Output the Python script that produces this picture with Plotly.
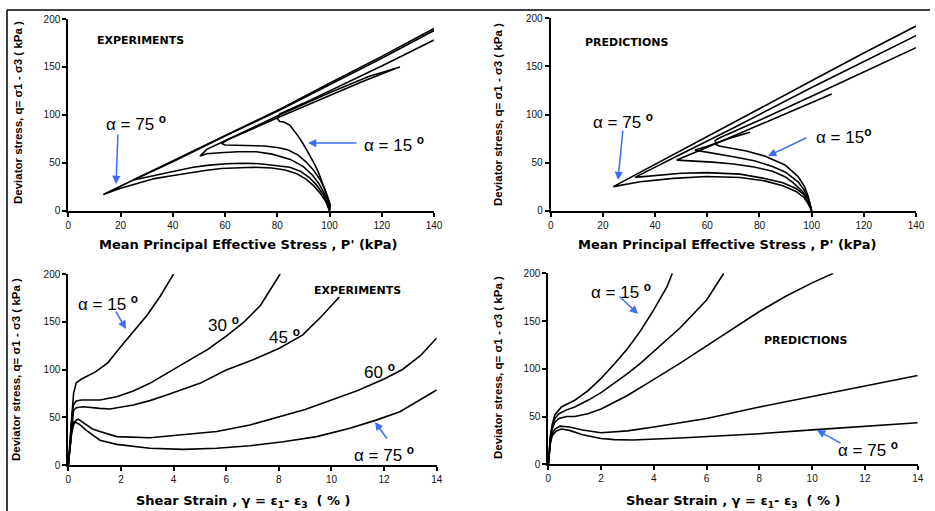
import plotly.graph_objects as go

W, H = 935, 511

# ---------------- DATA ----------------
alphas = ["15", "30", "45", "60", "75"]

# Top-left: experiments, stress paths (p', q)
exp_p15 = [100, 100.3, 99.5, 98.5, 97.6, 96.5, 95.6, 94, 92.5, 90.5, 88.6, 86.5, 84.8, 82.5, 81, 80, 81, 90, 100, 120, 140]
exp_q15 = [0, 6, 13, 20, 27, 34, 41, 50, 58, 67, 75.5, 83, 89.4, 92.5, 93, 96, 101, 112, 125, 151, 178]
exp_p30 = [100, 100, 99.3, 98.2, 96.5, 94, 91, 88, 84, 80, 75, 70, 65, 60, 58.7, 61, 81, 100, 112, 125]
exp_q30 = [0, 4, 12, 22, 32, 42, 51, 58, 63.5, 66, 67.5, 68, 68, 68.5, 70, 74, 98, 120, 134, 148]
exp_p45 = [100, 99.3, 98, 96, 93.5, 90, 85, 78, 72, 65, 58, 53, 50.4, 53, 60, 81, 100, 115, 127]
exp_q45 = [0, 9, 18, 28, 37, 46, 53.5, 59, 61.5, 61.5, 60.5, 59.5, 57, 64, 73, 100, 123, 140, 150]
exp_p60 = [100, 99, 97.3, 95, 92.5, 89, 84.8, 79, 73.3, 67, 60.6, 54, 47.8, 41, 35.1, 30, 24.9, 40, 60, 81, 100, 120, 140]
exp_q60 = [0, 9, 18, 27, 34, 41, 45.3, 47.5, 49, 49.5, 49, 47.5, 45.3, 41.5, 38, 35, 32, 51, 78, 105, 131, 159, 188]
exp_p75 = [100, 99.5, 98.5, 96.5, 94, 91, 87.5, 83, 77.9, 71, 65.2, 58.5, 52.4, 46, 39.6, 33, 26.9, 20, 13.4, 40, 60, 81, 100, 120, 140]
exp_q75 = [0, 4, 10, 18, 26, 33, 38.5, 42.5, 44.5, 45.3, 45, 44, 42, 39.5, 36.5, 33.5, 29, 23.5, 17, 52, 79, 106, 133, 161, 190]

# Top-right: predictions, stress paths (p', q)
pre_p15 = [100, 99.5, 98.7, 97.3, 94.8, 89.8, 82, 75, 69.3, 65, 63.5, 63, 65, 80, 100, 120, 140]
pre_q15 = [0, 6, 14.6, 25, 35.4, 47.5, 56.8, 62, 64.8, 67, 68.5, 73, 76, 94, 119, 144, 169.5]
pre_p30 = [100, 99.5, 98.5, 97, 94.8, 90, 85, 78, 70, 62, 57, 55.3, 60, 70, 76.4]
pre_q30 = [0, 6, 14, 22, 30, 40, 46, 52, 56, 59.5, 61.5, 63, 67, 76.5, 81.5]
pre_p45 = [100, 99.5, 98.5, 96.5, 93, 89.8, 85, 78, 70, 62, 55, 48.3, 60, 80, 100, 107.7]
pre_q45 = [0, 5, 12, 20, 29, 35.4, 41, 45.5, 48.5, 50.5, 51.5, 52.6, 66, 89, 112, 121.3]
pre_p60 = [100, 99.5, 98.5, 97, 94, 89, 82, 72.6, 65, 59.8, 50, 40.6, 32.3, 50, 70, 100, 120, 140]
pre_q60 = [0, 4, 10, 17, 23, 29, 33.5, 38, 39.3, 39.6, 39, 37, 34.6, 59, 86, 128, 155, 182]
pre_p75 = [100, 99.5, 98.5, 97, 94, 89, 82, 72.6, 59.8, 47, 34.3, 24, 40, 60, 80, 100, 120, 140]
pre_q75 = [0, 3, 8, 14, 20, 26, 31, 34.5, 35.5, 33.6, 30.1, 25, 48, 77, 106, 135, 164, 192]

# Bottom-left: experiments, q vs shear strain
exp_g15 = [0, 0.05, 0.1, 0.15, 0.2, 0.3, 0.5, 1.0, 1.5, 2.0, 2.5, 3.0, 3.5, 4.0]
exp_s15 = [0, 20, 45, 65, 75, 86, 90, 97, 107, 124, 140, 157, 177, 200]
exp_g30 = [0, 0.05, 0.1, 0.15, 0.2, 0.3, 0.5, 1.2, 1.84, 2.47, 3.1, 3.74, 4.5, 5.3, 6.0, 6.65, 7.3, 8.05]
exp_s30 = [0, 15, 38, 55, 63, 67, 68, 68, 71.5, 77.5, 85.5, 96, 108, 121, 135, 149, 167, 200]
exp_g45 = [0, 0.05, 0.1, 0.15, 0.2, 0.3, 0.57, 1.2, 1.58, 2.47, 3.1, 3.74, 5.0, 6.0, 7.0, 8.0, 8.9, 9.6, 10.3]
exp_s45 = [0, 15, 35, 50, 57, 60, 61, 59.3, 58.6, 62.8, 67.4, 73.3, 85.5, 99.5, 110, 122, 136, 155, 176]
exp_g60 = [0, 0.06, 0.12, 0.2, 0.3, 0.38, 0.6, 0.9, 1.2, 1.84, 3.1, 4.37, 5.64, 6.9, 8.0, 9.0, 10.0, 11.0, 12.0, 12.7, 13.4, 14.0]
exp_s60 = [0, 15, 32, 42, 47, 48, 44, 38, 35, 29.7, 28.6, 31.4, 35, 41.9, 50, 58, 68, 78, 90, 100, 115, 133]
exp_g75 = [0, 0.05, 0.1, 0.15, 0.22, 0.4, 0.7, 1.2, 1.84, 3.1, 4.37, 5.64, 6.9, 8.17, 9.44, 10.7, 11.7, 12.6, 14.0]
exp_s75 = [0, 15, 32, 42, 45.4, 43, 36, 26, 21.6, 17.5, 16.4, 17.5, 20.2, 24.4, 29.7, 38.4, 47, 55.8, 78.5]

# Bottom-right: predictions, q vs shear strain
pre_g15 = [0, 0.03, 0.08, 0.15, 0.25, 0.5, 1.0, 1.5, 2.0, 2.5, 3.0, 3.5, 4.0, 4.5, 4.7]
pre_s15 = [0, 15, 30, 42, 52, 60, 67, 77, 90, 105, 121, 140, 162, 186, 200]
pre_g30 = [0, 0.03, 0.08, 0.15, 0.25, 0.4, 0.7, 1.0, 1.5, 2.0, 2.5, 3.0, 3.5, 4.0, 5.0, 6.0, 6.65]
pre_s30 = [0, 15, 29, 40, 48, 53, 57, 60, 67, 75, 85, 95, 106, 118, 143, 172, 200]
pre_g45 = [0, 0.03, 0.08, 0.15, 0.25, 0.4, 0.7, 1.0, 1.5, 2.0, 3.0, 4.0, 5.0, 6.0, 7.0, 8.0, 9.0, 10.0, 10.8]
pre_s45 = [0, 14, 27, 37, 44, 48, 50, 50, 53, 58, 72, 89, 106, 124, 142, 160, 176, 190, 200]
pre_g60 = [0, 0.03, 0.08, 0.15, 0.25, 0.45, 0.8, 1.3, 2.0, 3.0, 4.0, 6.0, 8.0, 10.0, 12.0, 14.0]
pre_s60 = [0, 12, 24, 32, 37, 40, 39, 36, 33, 35, 39, 48, 60, 71, 82, 93]
pre_g75 = [0, 0.03, 0.08, 0.15, 0.3, 0.5, 0.8, 1.3, 2.0, 2.5, 3.2, 5.0, 8.0, 10.0, 12.0, 14.0]
pre_s75 = [0, 11, 22, 30, 35, 37, 35.5, 31, 27, 25.8, 25.5, 27.5, 32, 36, 39.5, 43.5]

# tick settings
p_ticks = [0, 20, 40, 60, 80, 100, 120, 140]
g_ticks = [0, 2, 4, 6, 8, 10, 12, 14]
q_ticks = [0, 50, 100, 150, 200]

# ---------------- FIGURE ----------------
def PX(x):
    return x / W

def PY(y):
    return 1 - y / H

fig = go.Figure()

LINE = dict(color="black", width=1.6)
panels = [
    ("x", "y", [exp_p15, exp_p30, exp_p45, exp_p60, exp_p75], [exp_q15, exp_q30, exp_q45, exp_q60, exp_q75]),
    ("x2", "y2", [pre_p15, pre_p30, pre_p45, pre_p60, pre_p75], [pre_q15, pre_q30, pre_q45, pre_q60, pre_q75]),
    ("x3", "y3", [exp_g15, exp_g30, exp_g45, exp_g60, exp_g75], [exp_s15, exp_s30, exp_s45, exp_s60, exp_s75]),
    ("x4", "y4", [pre_g15, pre_g30, pre_g45, pre_g60, pre_g75], [pre_s15, pre_s30, pre_s45, pre_s60, pre_s75]),
]
for xa, ya, xs, ys in panels:
    for a, xv, yv in zip(alphas, xs, ys):
        fig.add_trace(go.Scatter(x=xv, y=yv, mode="lines", line=LINE, xaxis=xa, yaxis=ya,
                                 name="α = " + a + "°", showlegend=False, hoverinfo="skip"))

TICKFONT = dict(family="Arial, Liberation Sans, sans-serif", size=10, color="#111")

def xax(dom, rng, ticks, anchor):
    return dict(domain=dom, range=rng, tickvals=ticks, showline=True, linecolor="black", linewidth=2,
                ticks="outside", ticklen=4, tickwidth=1.5, tickcolor="black", showgrid=False,
                zeroline=False, tickfont=TICKFONT, anchor=anchor, automargin=False, fixedrange=True)

def yax(dom, anchor):
    return dict(domain=dom, range=[0, 200], tickvals=q_ticks, showline=True, linecolor="black", linewidth=2,
                ticks="outside", ticklen=4, tickwidth=1.5, tickcolor="black", showgrid=False,
                zeroline=False, tickfont=TICKFONT, anchor=anchor, automargin=False, fixedrange=True)

fig.update_layout(
    width=W, height=H, margin=dict(l=0, r=0, t=0, b=0),
    paper_bgcolor="white", plot_bgcolor="white", showlegend=False,
    xaxis=xax([PX(68.3), PX(434)], [0, 140], p_ticks, "y"),
    yaxis=yax([PY(210.7), PY(19)], "x"),
    xaxis2=xax([PX(550.7), PX(916)], [0, 140], p_ticks, "y2"),
    yaxis2=yax([PY(210.7), PY(18.3)], "x2"),
    xaxis3=xax([PX(68.3), PX(436.7)], [0, 14], g_ticks, "y3"),
    yaxis3=yax([PY(465), PY(274)], "x3"),
    xaxis4=xax([PX(548.3), PX(917.7)], [0, 14], g_ticks, "y4"),
    yaxis4=yax([PY(464.3), PY(273.3)], "x4"),
)

# frame lines
fig.add_shape(type="line", xref="paper", yref="paper", x0=PX(7), x1=PX(7), y0=PY(10), y1=PY(511),
              line=dict(color="black", width=1.5))
fig.add_shape(type="line", xref="paper", yref="paper", x0=PX(7), x1=PX(930), y0=PY(10), y1=PY(10),
              line=dict(color="black", width=1.5))

ann = []
TF = "Arial, Liberation Sans, sans-serif"
BOLDF = "DejaVu Sans, Arial, sans-serif"

def text(x, y, s, size=16, family=TF, xanchor="left", angle=0, yanchor="middle"):
    ann.append(dict(x=PX(x), y=PY(y), xref="paper", yref="paper", text=s, showarrow=False,
                    xanchor=xanchor, yanchor=yanchor, textangle=angle,
                    font=dict(family=family, size=size, color="black")))

def arrow(tx, ty, hx, hy):
    ann.append(dict(x=PX(hx), y=PY(hy), xref="paper", yref="paper", text="", showarrow=True,
                    ax=tx - hx, ay=ty - hy, arrowhead=2, arrowsize=1.1, arrowwidth=1.5,
                    arrowcolor="#3b6ef2"))

deg = "<sup><b>o</b></sup>"
# axis titles
xt1 = "<b>Mean Principal Effective Stress , P' (kPa)</b>"
xt2 = "<b>Shear Strain , γ = ε<sub>1</sub>- ε<sub>3</sub>  ( % )</b>"
yt = "<b>Deviator stress, q= σ1 - σ3 ( kPa )</b>"
text(248, 245, xt1, size=13, family=BOLDF, xanchor="center")
text(727, 245, xt1, size=13, family=BOLDF, xanchor="center")
text(243, 501, xt2, size=13, family=BOLDF, xanchor="center")
text(733, 501, xt2, size=13, family=BOLDF, xanchor="center")
text(18, 113, yt, size=11.5, family=TF, xanchor="center", angle=-90)
text(498, 115, yt, size=11.5, family=TF, xanchor="center", angle=-90)
text(16, 370, yt, size=11.5, family=TF, xanchor="center", angle=-90)
text(498, 368, yt, size=11.5, family=TF, xanchor="center", angle=-90)

# panel labels
text(95, 40, "<b>EXPERIMENTS</b>", size=11, family=BOLDF)
text(583, 42, "<b>PREDICTIONS</b>", size=11, family=BOLDF)
text(312, 290, "<b>EXPERIMENTS</b>", size=11, family=BOLDF)
text(762, 340, "<b>PREDICTIONS</b>", size=11, family=BOLDF)

# alpha labels
text(104, 123, "α = 75 " + deg, size=17)
arrow(118, 133, 116, 184)
text(362, 144, "α = 15 " + deg, size=17)
arrow(358, 143, 308, 143)

text(591, 121, "α = 75 " + deg, size=17)
arrow(623, 129, 618, 180)
text(814, 136, "α = 15" + deg, size=17)
arrow(808, 137, 768, 156)

text(76, 303, "α = 15 " + deg, size=17)
arrow(115, 310, 126, 329)
text(206, 324, "30 " + deg, size=17)
text(267, 336, "45 " + deg, size=17)
text(362, 371, "60 " + deg, size=17)
text(352, 454, "α = 75 " + deg, size=17)
arrow(388, 440, 375, 422)

text(589, 291, "α = 15 " + deg, size=17)
arrow(618, 295, 638, 314)
text(836, 449, "α = 75 " + deg, size=17)
arrow(842, 444, 817, 430)

fig.update_layout(annotations=ann)
fig.write_html("out.html", config={"displayModeBar": False},
               post_script="document.body.style.margin='0px';document.body.style.overflow='hidden';")
